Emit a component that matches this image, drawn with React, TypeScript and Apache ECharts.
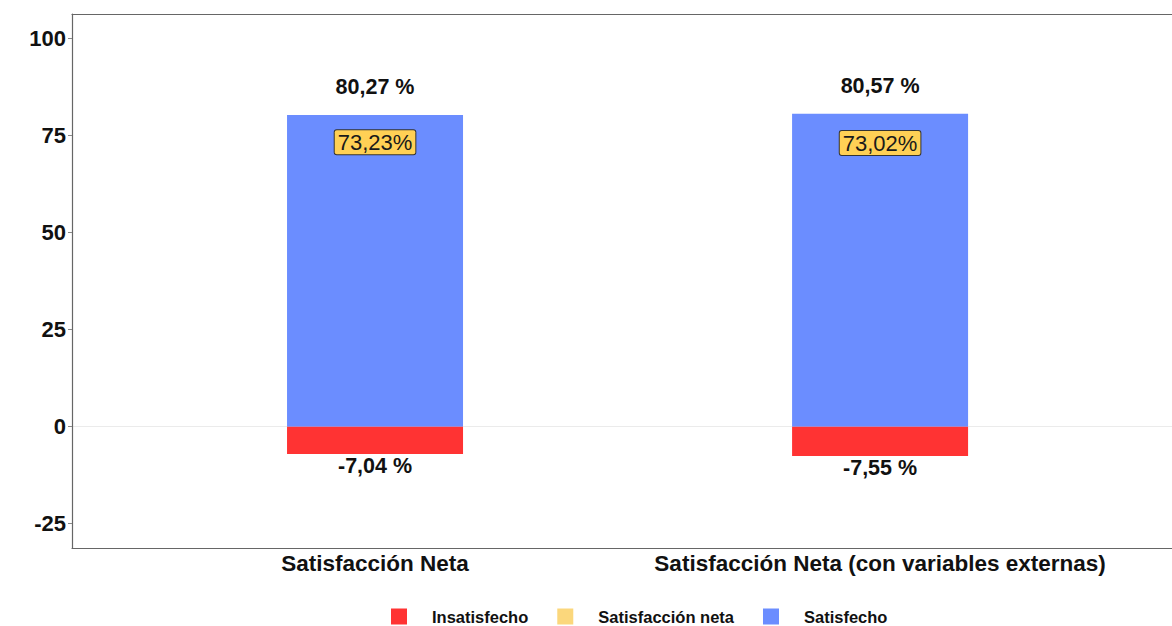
import React, { useEffect, useRef } from "react";
import * as echarts from "echarts";

const categories = ["Satisfacción Neta", "Satisfacción Neta (con variables externas)"];
const satisfecho = [80.27, 80.57];
const insatisfecho = [-7.04, -7.55];
const satisfaccionNeta = [73.23, 73.02];
const yTicks = [-25, 0, 25, 50, 75, 100];

const fmt = (v: number, sep: string) => v.toFixed(2).replace(".", ",") + sep + "%";

export default function App() {
  const ref = useRef<HTMLDivElement>(null);
  useEffect(() => {
    const chart = echarts.init(ref.current!, undefined, { renderer: "svg" });
    const font = "'Liberation Sans', Arial, sans-serif";
    const xs = categories.map((_, i) => i + 1);
    const xMin = 0.4;
    const xMax = 2.578;
    chart.setOption({
      animation: false,
      textStyle: { fontFamily: font },
      grid: { left: 72, right: 0, top: 14, height: 534, containLabel: false },
      legend: {
        data: ["Insatisfecho", "Satisfacción neta", "Satisfecho"],
        top: 603,
        left: 386,
        icon: "rect",
        itemWidth: 16,
        itemHeight: 16,
        itemGap: 29,
        textStyle: { fontFamily: font, fontSize: 16.5, fontWeight: "bold", color: "#111", padding: [0, 0, 0, 20] },
      },
      xAxis: [
        {
          type: "value",
          min: xMin,
          max: xMax,
          axisLine: { show: true, onZero: false, lineStyle: { color: "#666", width: 1.2 } },
          axisTick: { show: false },
          splitLine: { show: false },
          axisLabel: {
            customValues: xs,
            formatter: (v: number) => categories[Math.round(v) - 1] ?? "",
            fontSize: 22.5,
            fontWeight: "bold",
            color: "#111",
            margin: 4,
            fontFamily: font,
          },
        },
        {
          type: "value",
          position: "top",
          min: xMin,
          max: xMax,
          axisLine: { show: true, onZero: false, lineStyle: { color: "#666", width: 1.2 } },
          axisTick: { show: false },
          axisLabel: { show: false },
          splitLine: { show: false },
        },
      ],
      yAxis: {
        type: "value",
        min: -31.25,
        max: 106.25,
        axisLine: { show: true, lineStyle: { color: "#666", width: 1.2 } },
        axisTick: { show: true, customValues: yTicks, length: 4, lineStyle: { color: "#888" } },
        splitLine: { show: false },
        axisLabel: {
          customValues: yTicks,
          fontSize: 22,
          fontWeight: "bold",
          color: "#111",
          margin: 6,
          fontFamily: font,
        },
      },
      series: [
        {
          name: "Satisfecho",
          type: "bar",
          stack: "s",
          barWidth: 176,
          data: xs.map((x, i) => [x, satisfecho[i]]),
          itemStyle: { color: "#6B8DFF" },
          label: {
            show: true,
            position: "top",
            distance: 17,
            formatter: (p: any) => fmt(p.value[1], " "),
            fontSize: 21.5,
            fontWeight: "bold",
            color: "#111",
            fontFamily: font,
          },
          markLine: {
            silent: true,
            symbol: "none",
            label: { show: false },
            lineStyle: { color: "#ebebeb", width: 1, type: "solid" },
            data: [{ yAxis: 0 }],
            z: 0,
          },
        },
        {
          name: "Insatisfecho",
          type: "bar",
          stack: "s",
          barWidth: 176,
          data: xs.map((x, i) => [x, insatisfecho[i]]),
          itemStyle: { color: "#FF3333" },
          label: {
            show: true,
            position: "bottom",
            distance: 1,
            formatter: (p: any) => fmt(p.value[1], " "),
            fontSize: 21.5,
            fontWeight: "bold",
            color: "#111",
            fontFamily: font,
          },
        },
        {
          name: "Satisfacción neta",
          type: "scatter",
          symbolSize: 0,
          data: xs.map((x, i) => [x, satisfaccionNeta[i]]),
          itemStyle: { color: "#FBD77C", opacity: 1 },
          z: 5,
          label: {
            show: true,
            position: "inside",
            formatter: (p: any) => fmt(p.value[1], ""),
            fontSize: 22,
            color: "#1a1a1a",
            backgroundColor: "#FFD055",
            borderColor: "#333",
            borderWidth: 1,
            borderRadius: 2,
            padding: [2, 3, 0, 3],
            fontFamily: font,
          },
        },
      ],
    });
    return () => chart.dispose();
  }, []);
  return (
    <div
      ref={ref}
      style={{ position: "absolute", left: 0, top: 0, width: 1172, height: 626, background: "#fff" }}
    />
  );
}
